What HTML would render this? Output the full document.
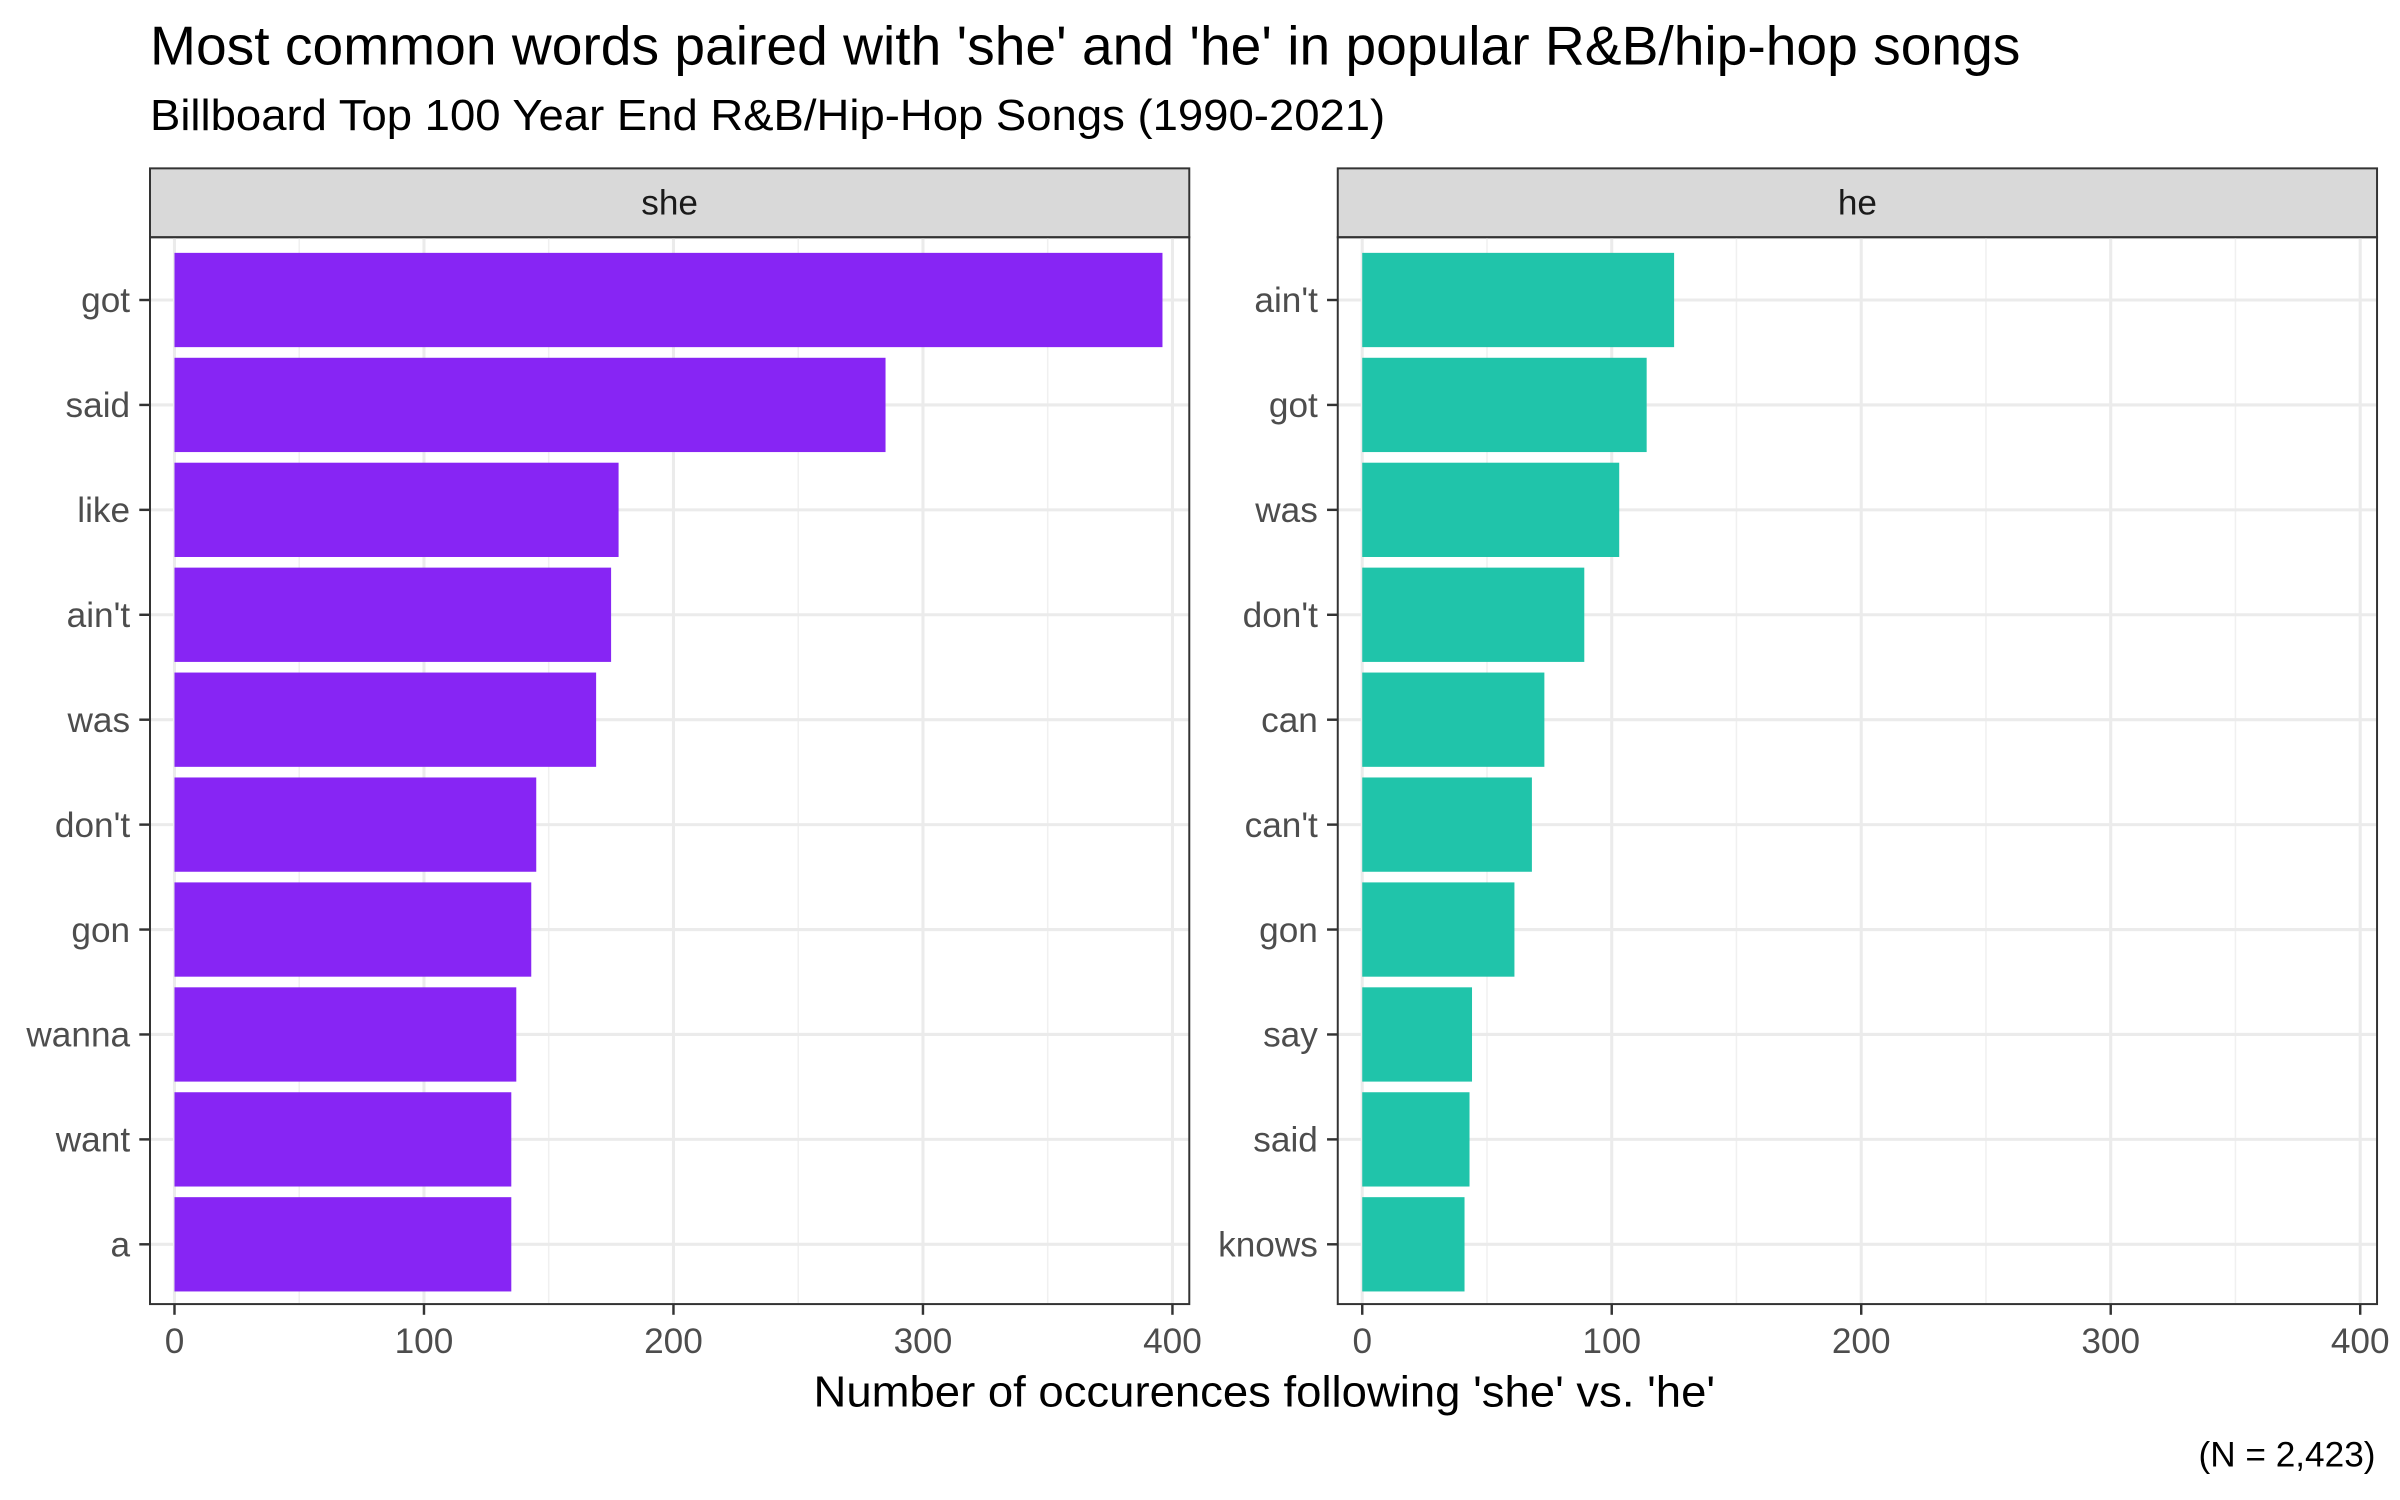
<!DOCTYPE html>
<html><head><meta charset="utf-8"><style>html,body{margin:0;padding:0;background:#fff}svg{display:block}</style></head>
<body>
<svg id="chart" width="2400" height="1500" viewBox="0 0 1568 980" xmlns="http://www.w3.org/2000/svg" font-family="Liberation Sans, sans-serif">
<text x="98" y="42" font-size="35.5" fill="#000" textLength="1222" lengthAdjust="spacingAndGlyphs">Most common words paired with 'she' and 'he' in popular R&amp;B/hip-hop songs</text>
<text x="98" y="85" font-size="28.5" fill="#000" textLength="807" lengthAdjust="spacingAndGlyphs">Billboard Top 100 Year End R&amp;B/Hip-Hop Songs (1990-2021)</text>
<text x="826" y="919" font-size="28.5" text-anchor="middle" fill="#000" textLength="589" lengthAdjust="spacingAndGlyphs">Number of occurences following 'she' vs. 'he'</text>
<text x="1552" y="958" font-size="23" text-anchor="end" fill="#000">(N = 2,423)</text>
</svg>
<script>
const sheWords = ["got","said","like","ain't","was","don't","gon","wanna","want","a"];
const sheValues = [396,285,178,175,169,145,143,137,135,135];
const heWords = ["ain't","got","was","don't","can","can't","gon","say","said","knows"];
const heValues = [125,114,103,89,73,68,61,44,43,41];
const xTicks = [0,100,200,300,400];
const xMinor = [50,150,250,350];

const NS="http://www.w3.org/2000/svg";
const svg=document.getElementById('chart');
function mk(tag,attrs,parent){const e=document.createElementNS(NS,tag);for(const k in attrs)e.setAttribute(k,attrs[k]);(parent||svg).appendChild(e);return e;}

function panel(name,left,right,words,values,color){
  const top=155,bottom=852;
  const x0=left+16, x400=left+668;
  const xs=v=>x0+(x400-x0)*v/400;
  const rowStep=68.55, row0=196;
  const ys=i=>row0+i*rowStep;
  const g=mk('g',{});
  
  
  const strip=mk('rect',{x:left,y:110,width:right-left,height:top-110,fill:'#d9d9d9',stroke:'#333','stroke-width':1.3},g);
  
  
  const st=mk('text',{x:(left+right)/2,y:140,'font-size':23,'text-anchor':'middle',fill:'#1a1a1a'},g);
  st.textContent=name;
  
  
  xMinor.forEach(v=>{const l=mk('line',{x1:xs(v),x2:xs(v),y1:top,y2:bottom,stroke:'#f0f0f0','stroke-width':1},g);
    
    });
  xTicks.forEach(v=>{const l=mk('line',{x1:xs(v),x2:xs(v),y1:top,y2:bottom,stroke:'#ebebeb','stroke-width':2},g);
    
    });
  words.forEach((w,i)=>{const l=mk('line',{x1:left,x2:right,y1:ys(i),y2:ys(i),stroke:'#ebebeb','stroke-width':2},g);
    
    });
  words.forEach((w,i)=>{
    const b=mk('rect',{x:xs(0),y:ys(i)-30.8,width:xs(values[i])-xs(0),height:61.6,fill:color},g);
    
    
    const t=mk('text',{x:left-13,y:ys(i)+8,'font-size':23,'text-anchor':'end',fill:'#4d4d4d'},g);
    t.textContent=w;
    
    
    mk('line',{x1:left-7,x2:left,y1:ys(i),y2:ys(i),stroke:'#333','stroke-width':1.6},g);
  });
  const border=mk('rect',{x:left,y:top,width:right-left,height:bottom-top,fill:'none',stroke:'#333','stroke-width':1.3},g);
  
  
  xTicks.forEach(v=>{
    mk('line',{x1:xs(v),x2:xs(v),y1:bottom,y2:bottom+7,stroke:'#333','stroke-width':1.6},g);
    const t=mk('text',{x:xs(v),y:bottom+32,'font-size':23,'text-anchor':'middle',fill:'#4d4d4d'},g);
    t.textContent=v;
    
    
  });
}
panel('she',98,777,sheWords,sheValues,'#8725f4');
panel('he',874,1553,heWords,heValues,'#20c4aa');
</script>
</body></html>
